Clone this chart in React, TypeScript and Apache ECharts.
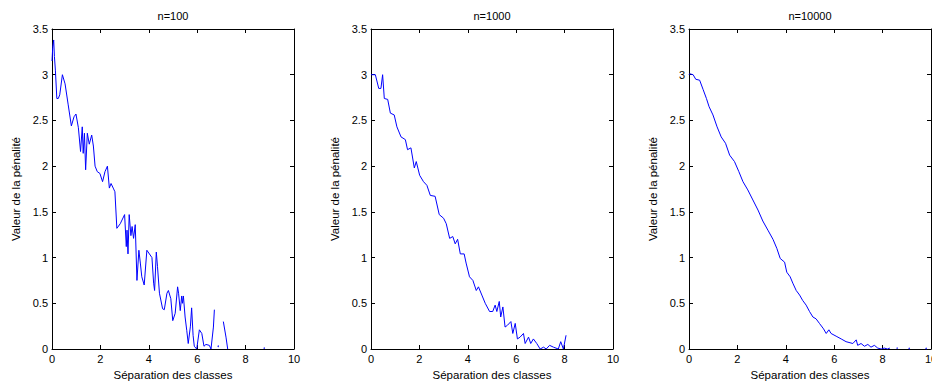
import { useEffect, useRef } from "react";
import * as echarts from "echarts";

// ---- data ----
const panelTitles = ["n=100", "n=1000", "n=10000"];
const xAxisTitle = "Séparation des classes";
const yAxisTitle = "Valeur de la pénalité";

const sepN100 = [0, 0.03, 0.07, 0.1, 0.14, 0.2, 0.26, 0.32, 0.43, 0.54, 0.67, 0.8, 0.91, 0.99, 1.09, 1.18, 1.25, 1.29, 1.34, 1.39, 1.46, 1.54, 1.64, 1.71, 1.78, 1.87, 1.98, 2.09, 2.19, 2.29, 2.37, 2.44, 2.53, 2.6, 2.68, 2.82, 3.0, 3.07, 3.1, 3.14, 3.19, 3.26, 3.31, 3.37, 3.44, 3.51, 3.59, 3.65, 3.71, 3.81, 3.92, 4.13, 4.2, 4.24, 4.31, 4.36, 4.44, 4.57, 4.64, 4.75, 4.81, 4.91, 4.99, 5.09, 5.19, 5.23, 5.3, 5.36, 5.39, 5.43, 5.5, 5.57, 5.63, 5.72, 5.77, 5.83, 5.88, 5.98, 6.09, 6.19, 6.28, 6.36, 6.5, 6.57, 6.67, 6.71, 6.8, 7.08, 7.19, 7.26];
const penN100 = [3.15, 3.3, 3.38, 3.2, 3.05, 2.74, 2.74, 2.78, 3.0, 2.9, 2.67, 2.44, 2.54, 2.57, 2.42, 2.16, 2.43, 2.14, 2.36, 1.96, 2.36, 2.24, 2.34, 2.22, 2.0, 1.94, 1.92, 1.83, 1.94, 2.0, 1.76, 1.81, 1.76, 1.72, 1.32, 1.37, 1.47, 1.12, 1.3, 1.04, 1.47, 1.24, 1.34, 1.21, 1.36, 0.75, 1.08, 0.94, 0.79, 0.7, 1.08, 1.0, 0.72, 0.64, 1.06, 0.9, 0.61, 0.44, 0.43, 0.61, 0.64, 0.55, 0.31, 0.39, 0.68, 0.61, 0.42, 0.58, 0.5, 0.58, 0.35, 0.2, 0.06, 0.25, 0.45, 0.15, 0.03, 0.0, 0.21, 0.17, 0.03, 0.05, 0.04, 0.0, 0.24, 0.43, null, 0.3, 0.13, 0.0];
const dotSepN100 = [6.87, 8.77];
const dotPenN100 = [0.03, 0.01];

const sepN1000 = [0, 0.18, 0.32, 0.41, 0.48, 0.55, 0.69, 0.8, 0.96, 1.07, 1.24, 1.42, 1.51, 1.65, 1.79, 1.87, 2.01, 2.17, 2.31, 2.45, 2.65, 2.82, 3.0, 3.11, 3.25, 3.38, 3.48, 3.58, 3.69, 3.85, 3.93, 4.07, 4.21, 4.35, 4.44, 4.58, 4.72, 4.9, 5.03, 5.13, 5.2, 5.3, 5.36, 5.45, 5.54, 5.64, 5.78, 5.86, 5.96, 6.05, 6.16, 6.3, 6.37, 6.51, 6.6, 6.71, 6.85, 6.99, 7.13, 7.24, 7.38, 7.54, 7.74, 7.84, 7.95, 8.06];
const penN1000 = [3.0, 3.0, 2.85, 2.85, 3.0, 2.74, 2.73, 2.58, 2.56, 2.43, 2.32, 2.29, 2.18, 2.2, 1.98, 2.05, 1.9, 1.83, 1.79, 1.68, 1.67, 1.47, 1.43, 1.37, 1.21, 1.23, 1.15, 1.2, 1.04, 1.04, 0.94, 0.79, 0.75, 0.64, 0.68, 0.59, 0.5, 0.41, 0.41, 0.48, 0.41, 0.52, 0.35, 0.46, 0.24, 0.26, 0.3, 0.17, 0.28, 0.11, 0.13, 0.17, 0.06, 0.13, 0.06, 0.11, 0.06, 0.0, 0.02, 0.0, 0.04, 0.02, 0.0, 0.08, 0.0, 0.15];

const sepN10000 = [0, 0.03, 0.17, 0.28, 0.44, 0.58, 0.72, 0.83, 0.99, 1.16, 1.33, 1.51, 1.68, 1.88, 2.06, 2.23, 2.43, 2.64, 2.85, 3.05, 3.26, 3.47, 3.63, 3.77, 3.95, 4.04, 4.18, 4.29, 4.43, 4.57, 4.7, 4.84, 4.98, 5.12, 5.25, 5.39, 5.56, 5.67, 5.78, 5.87, 6.08, 6.29, 6.49, 6.77, 6.91, 6.97, 7.11, 7.25, 7.39, 7.52, 7.66, 7.8, 7.94, 8.07, 8.2, 8.3];
const penN10000 = [3.0, 3.01, 3.0, 2.95, 2.94, 2.84, 2.74, 2.65, 2.56, 2.43, 2.32, 2.25, 2.12, 2.05, 1.94, 1.83, 1.74, 1.63, 1.52, 1.4, 1.3, 1.2, 1.1, 0.99, 0.95, 0.84, 0.79, 0.72, 0.64, 0.59, 0.53, 0.48, 0.41, 0.35, 0.33, 0.28, 0.22, 0.17, 0.21, 0.17, 0.14, 0.11, 0.08, 0.06, 0.1, 0.04, 0.06, 0.03, 0.05, 0.02, 0.04, 0.01, 0.0, 0.01, 0.0, 0.01];
const dotSepN10000 = [8.6, 9.1, 9.8];
const dotPenN10000 = [0.01, 0.005, 0.005];

const xMin = 0, xMax = 10, xStep = 2;
const yMin = 0, yMax = 3.5, yStep = 0.5;

const lineSeps = [sepN100, sepN1000, sepN10000];
const linePens = [penN100, penN1000, penN10000];
const dotSeps = [dotSepN100, [], dotSepN10000];
const dotPens = [dotPenN100, [], dotPenN10000];

const FONT = "'Liberation Sans', Arial, Helvetica, sans-serif";
const GRID_LEFTS = [52, 371, 689];
const GRID_TOP = 29;
const GRID_W = 242;
const GRID_H = 320;

export default function App() {
  const ref = useRef<HTMLDivElement>(null);
  useEffect(() => {
    if (!ref.current) return;
    const chart = echarts.init(ref.current, null, { renderer: "svg" });
    const axisLine = { show: true, onZero: false, lineStyle: { color: "#000", width: 1 } };
    const axisTick = { show: true, inside: true, length: 4, lineStyle: { color: "#000", width: 1 } };
    const label = { color: "#000", fontSize: 11, fontFamily: FONT };

    const grid: any[] = [];
    const xAxis: any[] = [];
    const yAxis: any[] = [];
    const series: any[] = [];
    const graphic: any[] = [];

    for (let i = 0; i < 3; i++) {
      grid.push({ left: GRID_LEFTS[i], top: GRID_TOP, width: GRID_W, height: GRID_H, outerBoundsMode: "none", containLabel: false });
      xAxis.push({
        gridIndex: i, type: "value", position: "bottom", min: xMin, max: xMax, interval: xStep,
        name: xAxisTitle, nameLocation: "middle", nameGap: 19,
        nameTextStyle: { ...label, fontSize: 11.5 },
        axisLine, axisTick, axisLabel: { ...label, margin: 4, showMaxLabel: true }, splitLine: { show: false },
      });
      xAxis.push({
        gridIndex: i, type: "value", position: "top", min: xMin, max: xMax, interval: xStep,
        axisLine, axisTick, axisLabel: { show: false }, splitLine: { show: false },
      });
      yAxis.push({
        gridIndex: i, type: "value", position: "left", min: yMin, max: yMax, interval: yStep,
        name: yAxisTitle, nameLocation: "middle", nameGap: 30,
        nameTextStyle: { ...label, fontSize: 11.5 },
        axisLine, axisTick, axisLabel: { ...label, margin: 4 }, splitLine: { show: false },
      });
      yAxis.push({
        gridIndex: i, type: "value", position: "right", min: yMin, max: yMax, interval: yStep,
        axisLine, axisTick, axisLabel: { show: false }, splitLine: { show: false },
      });
      const data = lineSeps[i].map((x, k) => [x, linePens[i][k] === null ? "-" : linePens[i][k]]);
      series.push({
        type: "line", xAxisIndex: 2 * i, yAxisIndex: 2 * i, data,
        showSymbol: false, symbol: "none", connectNulls: false,
        lineStyle: { color: "#0000ff", width: 1 }, silent: true,
      });
      if (dotSeps[i].length) {
        series.push({
          type: "scatter", xAxisIndex: 2 * i, yAxisIndex: 2 * i,
          data: dotSeps[i].map((x, k) => [x, dotPens[i][k]]),
          symbol: "circle", symbolSize: 1.6, itemStyle: { color: "#0000ff" }, silent: true,
        });
      }
      graphic.push({
        type: "text", x: GRID_LEFTS[i] + GRID_W / 2, y: 16,
        style: { text: panelTitles[i], align: "center", verticalAlign: "middle", fill: "#000", font: `11px ${FONT}` },
      });
    }

    chart.setOption({
      animation: false,
      backgroundColor: "#fff",
      grid, xAxis, yAxis, series, graphic,
    });
    return () => chart.dispose();
  }, []);
  return <div ref={ref} style={{ position: "fixed", left: 0, top: 0, width: 932, height: 384, background: "#fff" }} />;
}
